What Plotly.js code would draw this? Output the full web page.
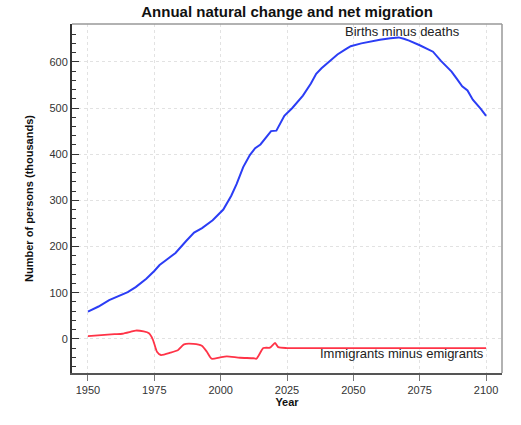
<!DOCTYPE html>
<html>
<head>
<meta charset="utf-8">
<script src="https://cdn.plot.ly/plotly-3.0.1.min.js"></script>
<style>
html,body{margin:0;padding:0;background:#fff;}
#chart{width:521px;height:425px;}
</style>
</head>
<body>
<div id="chart"></div>
<script>
// Births minus deaths (thousands)
const birthYears = [1950,1954,1958,1962,1965,1968,1972,1975,1977,1980,1983,1987,1990,1993,1997,2001,2004,2006,2008.5,2011,2013,2015,2017,2019,2021,2022.5,2024,2027,2031,2034,2036,2038,2041,2044,2047,2049,2053,2057,2060,2064,2067,2069,2071,2075,2078,2080,2083,2085,2087,2089,2091,2093,2095,2098,2100];
const birthValues = [59,70,84,94,101,112,130,147,160,173,186,212,230,240,257,280,310,335,372,398,413,421,436,450,451,466,483,500,527,553,574,586,600,616,627,634,640,645,648,651,653,650,646,636,628,622,602,590,579,563,547,538,518,498,483];

// Immigrants minus emigrants (thousands)
const migYears = [1950,1955,1960,1963,1966,1968,1971,1973,1974.5,1976,1977.5,1981,1984,1986.2,1989.7,1992.9,1994.8,1996.6,1999.8,2002.3,2007.3,2012.3,2013.5,2016.1,2018.6,2020.5,2021.7,2025,2050,2075,2100];
const migValues = [6,8,10,11,15,18,16,12,-2,-28,-35,-30,-24,-12,-11,-15,-28,-43,-40,-38,-41,-42,-43,-20,-19,-9,-18,-20,-20,-20,-20];

const xTicks = [1950,1975,2000,2025,2050,2075,2100];
const yTicks = [0,100,200,300,400,500,600];

const titleText = 'Annual natural change and net migration';
const xTitle = 'Year';
const yTitle = 'Number of persons (thousands)';
const birthLabel = 'Births minus deaths';
const migLabel = 'Immigrants minus emigrants';

const font = 'Liberation Sans, Arial, sans-serif';

const traces = [
  {x: birthYears, y: birthValues, type: 'scatter', mode: 'lines',
   line: {color: '#2b3df5', width: 2}, hoverinfo: 'skip'},
  {x: migYears, y: migValues, type: 'scatter', mode: 'lines',
   line: {color: '#ff3347', width: 1.8, shape: 'spline', smoothing: 0.6}, hoverinfo: 'skip'}
];

const layout = {
  width: 521, height: 425,
  margin: {l: 72, r: 19, t: 24, b: 52},
  paper_bgcolor: '#fff', plot_bgcolor: '#fff',
  showlegend: false,
  font: {family: font, color: '#333', size: 11},
  title: {text: '<b>' + titleText + '</b>', font: {family: font, size: 15, color: '#111'},
          x: 0.551, xanchor: 'center', y: 0.972, yanchor: 'middle'},
  xaxis: {
    range: [1944, 2106], tickvals: xTicks, ticktext: xTicks.map(String),
    showgrid: true, gridcolor: '#e2e2e2', griddash: 'dot', gridwidth: 1,
    zeroline: false, showline: true, linecolor: '#555', linewidth: 1.5,
    ticks: 'outside', ticklen: 6, tickcolor: '#777', tickwidth: 1,
    tickfont: {size: 11, color: '#333'},
    title: {text: '<b>' + xTitle + '</b>', font: {size: 11, color: '#111'}, standoff: 3}
  },
  yaxis: {
    range: [-74, 682], tickvals: yTicks, ticktext: yTicks.map(String),
    showgrid: true, gridcolor: '#e2e2e2', griddash: 'dot', gridwidth: 1,
    zeroline: false, showline: true, linecolor: '#333', linewidth: 2,
    ticks: 'inside', ticklen: 7, tickcolor: '#333', tickwidth: 1,
    minor: {dtick: 20, tick0: 0, ticks: 'inside', ticklen: 4, tickcolor: '#333', showgrid: false},
    tickfont: {size: 11, color: '#333'},
    title: {text: '<b>' + yTitle + '</b>', font: {size: 11, color: '#111'}, standoff: 14}
  },
  shapes: [
    {type: 'line', xref: 'paper', yref: 'paper', x0: 0, x1: 1, y0: 1, y1: 1,
     line: {color: '#999', width: 1.5}},
    {type: 'line', xref: 'paper', yref: 'paper', x0: 1, x1: 1, y0: 0, y1: 1,
     line: {color: '#999', width: 1.5}}
  ],
  annotations: [
    {x: 2068.4, y: 665, xref: 'x', yref: 'y', text: birthLabel, showarrow: false,
     xanchor: 'center', yanchor: 'middle', font: {size: 13, color: '#222'}},
    {x: 2100, y: -32, xref: 'x', yref: 'y', text: migLabel, showarrow: false,
     xanchor: 'right', yanchor: 'middle', font: {size: 13, color: '#222'}}
  ]
};

Plotly.newPlot('chart', traces, layout, {staticPlot: true, displayModeBar: false});
</script>
</body>
</html>
